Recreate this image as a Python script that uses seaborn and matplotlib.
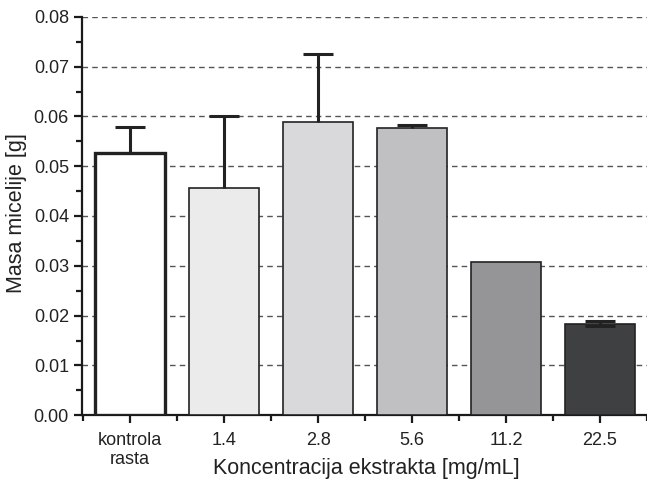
import pandas as pd
import numpy as np
import seaborn as sns
import matplotlib.pyplot as plt
from matplotlib.ticker import MultipleLocator

categories = ["kontrola\nrasta", "1.4", "2.8", "5.6", "11.2", "22.5"]
masa = [0.0527, 0.0456, 0.0588, 0.0577, 0.0308, 0.01835]
err_up = [0.0051, 0.0145, 0.0137, 0.0006, 0.0, 0.0005]
err_down = [0.0, 0.0, 0.0, 0.0, 0.0, 0.0005]
colors = ["#ffffff", "#ebebec", "#d9d9db", "#bfc0c3", "#949598", "#3f4042"]

df = pd.DataFrame({"kat": categories, "masa": masa})

sns.set_style("ticks")
plt.rcParams['font.family'] = ['Liberation Sans', 'DejaVu Sans']

fig = plt.figure(figsize=(6.47, 4.8), dpi=100)
ax = fig.add_axes([0.127, 0.135, 0.873, 0.83])

sns.barplot(x="kat", y="masa", data=df, hue="kat", palette=colors, legend=False,
            width=0.74, edgecolor="#222222", linewidth=1.2, ax=ax, zorder=3)
ax.patches[0].set_linewidth(2.4)

# error bars: only the upper side, except where a lower one is given
for i in range(len(categories)):
    if err_up[i] == 0 and err_down[i] == 0:
        continue
    _, caps, _ = ax.errorbar([i], [masa[i]], yerr=[[err_down[i]], [err_up[i]]], fmt="none",
                             ecolor="#222222", elinewidth=2.2, capsize=11, capthick=2.2, zorder=4)
    if err_down[i] == 0:
        caps[0].set_visible(False)

ax.set_xlim(-0.51, 5.5)
ax.set_ylim(0, 0.08)
ax.yaxis.set_minor_locator(MultipleLocator(0.005))
ax.set_yticks([0.0, 0.01, 0.02, 0.03, 0.04, 0.05, 0.06, 0.07, 0.08])
ax.set_yticklabels(["0.00", "0.01", "0.02", "0.03", "0.04", "0.05", "0.06", "0.07", "0.08"])
ax.set_xticks(np.arange(-0.5, 6, 1), minor=True)

ax.grid(axis="y", which="major", linestyle=(0, (4, 3)), color="#555555", linewidth=1.0, zorder=0)
ax.set_axisbelow(True)

for s in ["top", "right"]:
    ax.spines[s].set_visible(False)
for s in ["left", "bottom"]:
    ax.spines[s].set_linewidth(1.6)
    ax.spines[s].set_color("#1a1a1a")

ax.tick_params(axis="both", which="major", direction="out", length=6, width=1.6,
               color="#1a1a1a", labelsize=13, labelcolor="#222222")
ax.tick_params(axis="x", which="major", pad=6)
ax.tick_params(axis="both", which="minor", direction="out", length=4, width=1.6, color="#1a1a1a")

ax.set_xlabel("Koncentracija ekstrakta [mg/mL]", fontsize=15.5, color="#222222")
ax.set_ylabel("Masa micelije [g]", fontsize=15.5, color="#222222")
ax.xaxis.set_label_coords(0.503, -0.108)
ax.yaxis.set_label_coords(-0.097, 0.507)

fig.savefig("out.png", dpi=100)
